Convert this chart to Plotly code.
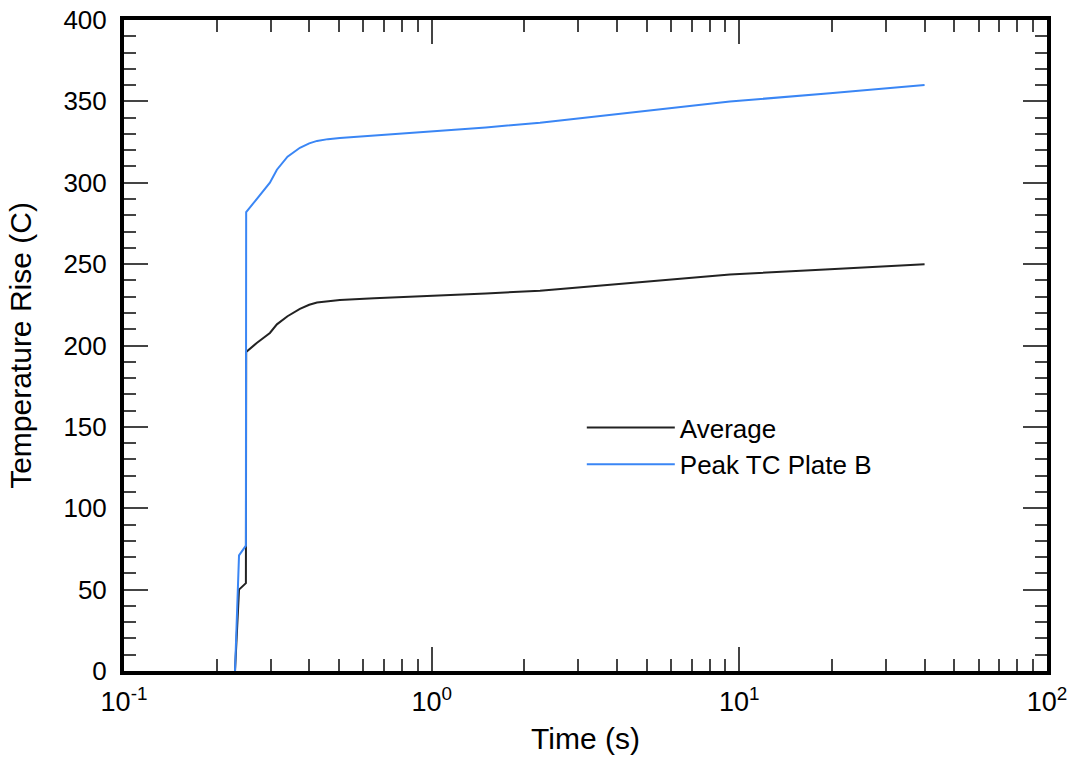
import plotly.graph_objects as go

# Data
time_s = [0.2295, 0.2365, 0.249, 0.2495, 0.27, 0.298, 0.314, 0.34, 0.373, 0.40, 0.424,
          0.46, 0.503, 0.65, 0.832, 1.0, 1.5, 2.25, 4.41, 9.32, 19.7, 40.0]
average = [0, 50, 54, 196, 201.5, 207.7, 213, 218, 222.5, 225, 226.4,
           227.3, 228, 229, 229.8, 230.4, 232, 233.7, 238.6, 243.7, 246.8, 250]
peak_tc_plate_b = [0, 71, 77, 282, 290, 300, 308, 316, 321.5, 324.2, 325.7,
                   326.8, 327.5, 329, 330.6, 331.8, 334, 336.9, 343, 349.9, 355, 360]

x_major_vals = [0.1, 1, 10, 100]
x_major_text = ["10<sup>-1</sup>", "10<sup>0</sup>", "10<sup>1</sup>", "10<sup>2</sup>"]
x_minor_vals = [m * d for d in (0.1, 1, 10) for m in range(2, 10)]

FONT = "Liberation Sans, Arial, Helvetica, sans-serif"

fig = go.Figure()
fig.add_trace(go.Scatter(x=time_s, y=average, mode="lines", name="Average",
                         line=dict(color="#222222", width=2)))
fig.add_trace(go.Scatter(x=time_s, y=peak_tc_plate_b, mode="lines", name="Peak TC Plate B",
                         line=dict(color="#3a86f5", width=2)))

fig.update_layout(
    width=1075, height=759,
    margin=dict(l=124, r=28, t=20, b=88, autoexpand=False),
    paper_bgcolor="white", plot_bgcolor="white",
    font=dict(family=FONT, size=25, color="black"),
    showlegend=True,
    legend=dict(x=0.496, y=0.41, xanchor="left", yanchor="top",
                bgcolor="rgba(0,0,0,0)", font=dict(size=26, family=FONT),
                itemwidth=88, tracegroupgap=0),
)

fig.update_xaxes(
    type="log", range=[-1, 2],
    tickvals=x_major_vals, ticktext=x_major_text,
    ticks="inside", ticklen=24, tickwidth=2, tickcolor="#444444",
    showline=True, linewidth=4, linecolor="black", mirror="ticks",
    showgrid=False, zeroline=False,
    tickfont=dict(size=27, family=FONT),
    ticklabelstandoff=4,
    minor=dict(tickvals=x_minor_vals, ticks="inside", ticklen=12, tickwidth=2,
               tickcolor="#444444", showgrid=False),
    title=dict(text="Time (s)", font=dict(size=30, family=FONT), standoff=13),
)
fig.update_yaxes(
    range=[0, 400], dtick=50,
    ticks="inside", ticklen=24, tickwidth=2, tickcolor="#444444",
    showline=True, linewidth=4, linecolor="black", mirror="ticks",
    showgrid=False, zeroline=False,
    tickfont=dict(size=26, family=FONT),
    ticklabelstandoff=8,
    minor=dict(dtick=10, ticks="inside", ticklen=12, tickwidth=2,
               tickcolor="#444444", showgrid=False),
    title=dict(text="Temperature Rise (C)", font=dict(size=30, family=FONT), standoff=24),
)

fig.write_html("out.html")
